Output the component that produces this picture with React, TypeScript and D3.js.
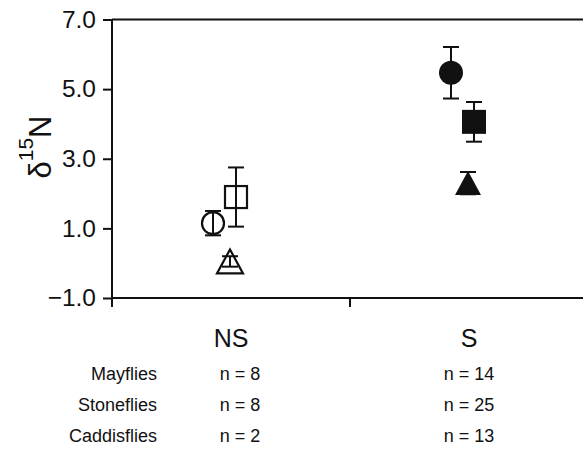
import React, { useEffect, useRef } from "react";
import * as d3 from "d3";

const groups = ["NS", "S"];
const taxa = ["Mayflies", "Stoneflies", "Caddisflies"];
const yTicks = [-1, 1, 3, 5, 7];

const mayflyMean = [1.15, 5.47];
const mayflyErr = [0.35, 0.74];
const stoneflyMean = [1.9, 4.06];
const stoneflyErr = [0.85, 0.57];
const caddisMean = [0.05, 2.3];
const caddisErr = [0.15, 0.32];

const mayflyN = [8, 14];
const stoneflyN = [8, 25];
const caddisN = [2, 13];

const W = 583;
const H = 451;
const FONT = "'Liberation Sans', Arial, Helvetica, sans-serif";

const App = () => {
  const ref = useRef<SVGSVGElement>(null);

  useEffect(() => {
    const svg = d3.select(ref.current);
    svg.selectAll("*").remove();

    const x = d3.scaleLinear().domain([0, 2]).range([112, 588]);
    const y = d3.scaleLinear().domain([-1, 7]).range([298, 19.5]);
    const groupPos = (i) => x(i + 0.5);

    // frame: top line, bottom axis, left axis
    svg.append("line")
      .attr("x1", x(0)).attr("x2", W).attr("y1", y(7)).attr("y2", y(7))
      .attr("stroke", "#111").attr("stroke-width", 2);
    svg.append("line")
      .attr("x1", x(0)).attr("x2", W).attr("y1", y(-1)).attr("y2", y(-1))
      .attr("stroke", "#111").attr("stroke-width", 2);
    svg.append("line")
      .attr("x1", x(0)).attr("x2", x(0)).attr("y1", y(7)).attr("y2", y(-1) + 9)
      .attr("stroke", "#111").attr("stroke-width", 2);

    // x ticks between groups
    svg.selectAll(".xtick")
      .data([1, 2])
      .enter()
      .append("line")
      .attr("x1", (d) => x(d)).attr("x2", (d) => x(d))
      .attr("y1", y(-1)).attr("y2", y(-1) + 9)
      .attr("stroke", "#111").attr("stroke-width", 2);

    // y axis
    const fmt = d3.format(".1f");
    const yAxis = svg.append("g").attr("transform", `translate(${x(0)},0)`)
      .call(d3.axisLeft(y).tickValues(yTicks).tickFormat(fmt).tickSize(9).tickPadding(7));
    yAxis.select(".domain").remove();
    yAxis.selectAll(".tick line").attr("stroke", "#111").attr("stroke-width", 2);
    yAxis.selectAll(".tick text")
      .attr("fill", "#111")
      .style("font-family", FONT)
      .style("font-size", "24.5px");

    // y label
    const lab = svg.append("text")
      .attr("transform", `translate(51,147) rotate(-90)`)
      .attr("text-anchor", "middle")
      .attr("fill", "#111")
      .style("font-family", FONT)
      .style("font-size", "31px");
    lab.append("tspan").text("δ");
    lab.append("tspan").attr("dy", -18).style("font-size", "21px").text("15");
    lab.append("tspan").attr("dy", 18).text("N");

    const series = [
      { mean: mayflyMean, err: mayflyErr, shape: "circle", dx: -18 },
      { mean: stoneflyMean, err: stoneflyErr, shape: "square", dx: 5 },
      { mean: caddisMean, err: caddisErr, shape: "triangle", dx: -1 },
    ];

    const triangle = (cx, cy) => {
      const h = 24, w = 26;
      const p = d3.path();
      p.moveTo(cx, cy - h / 2);
      p.lineTo(cx + w / 2, cy + h / 2);
      p.lineTo(cx - w / 2, cy + h / 2);
      p.closePath();
      return p.toString();
    };

    series.forEach((s) => {
      groups.forEach((g, gi) => {
        const cx = groupPos(gi) + s.dx;
        const cy = y(s.mean[gi]);
        const lo = y(s.mean[gi] - s.err[gi]);
        const hi = y(s.mean[gi] + s.err[gi]);
        const filled = g === "S";
        const gg = svg.append("g");

        // error bar
        gg.append("line").attr("x1", cx).attr("x2", cx).attr("y1", hi).attr("y2", lo)
          .attr("stroke", "#111").attr("stroke-width", 2);
        [hi, lo].forEach((yy) => {
          gg.append("line").attr("x1", cx - 8).attr("x2", cx + 8).attr("y1", yy).attr("y2", yy)
            .attr("stroke", "#111").attr("stroke-width", 2);
        });

        const fill = filled ? "#111" : "none";
        const sw = filled ? 0 : 2.2;
        if (s.shape === "circle") {
          gg.append("circle").attr("cx", cx).attr("cy", cy).attr("r", filled ? 12 : 11)
            .attr("fill", fill).attr("stroke", "#111").attr("stroke-width", sw);
        } else if (s.shape === "square") {
          const a = filled ? 24 : 22;
          gg.append("rect").attr("x", cx - a / 2).attr("y", cy - a / 2)
            .attr("width", a).attr("height", a)
            .attr("fill", fill).attr("stroke", "#111").attr("stroke-width", sw);
        } else {
          gg.append("path").attr("d", triangle(cx, cy))
            .attr("fill", fill).attr("stroke", "#111").attr("stroke-width", sw)
            .attr("stroke-linejoin", "miter");
        }
      });
    });

    // group labels
    svg.selectAll(".glabel")
      .data(groups)
      .enter()
      .append("text")
      .attr("x", (d, i) => groupPos(i))
      .attr("y", 347)
      .attr("text-anchor", "middle")
      .attr("fill", "#111")
      .style("font-family", FONT)
      .style("font-size", "25px")
      .text((d) => d);

    // sample sizes table
    const counts = [mayflyN, stoneflyN, caddisN];
    const rowY = d3.scalePoint().domain(taxa).range([380, 442]);
    taxa.forEach((t, ti) => {
      svg.append("text")
        .attr("x", 157).attr("y", rowY(t))
        .attr("text-anchor", "end")
        .attr("fill", "#111")
        .style("font-family", FONT)
        .style("font-size", "18px")
        .text(t);
      groups.forEach((g, gi) => {
        svg.append("text")
          .attr("x", gi === 0 ? 240 : groupPos(gi)).attr("y", rowY(t))
          .attr("text-anchor", "middle")
          .attr("fill", "#111")
          .style("font-family", FONT)
          .style("font-size", "18px")
          .text(`n = ${counts[ti][gi]}`);
      });
    });
  }, []);

  return (
    <svg
      ref={ref}
      width={W}
      height={H}
      style={{ position: "absolute", left: 0, top: 0, background: "#fff" }}
    />
  );
};

export default App;
